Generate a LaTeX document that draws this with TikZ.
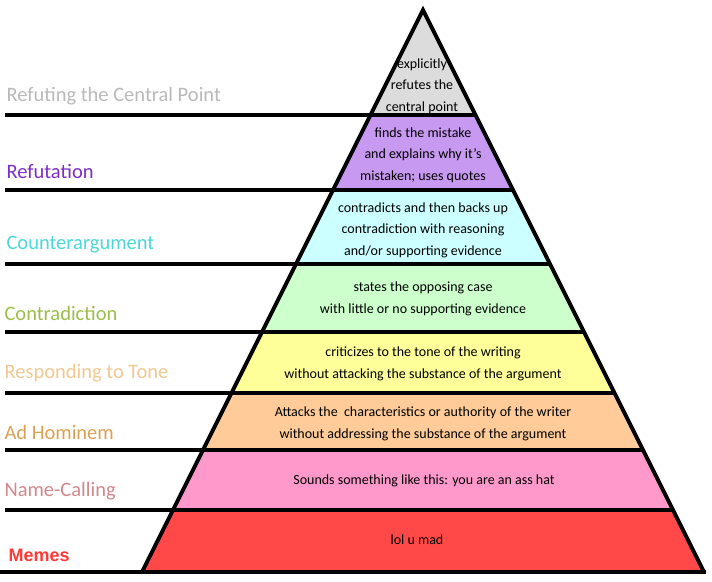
\documentclass[tikz,border=0pt]{standalone}
\usepackage{fontspec}
\setmainfont{Carlito}
\newfontfamily\memesfont{Liberation Sans}
\definecolor{toplvl}{RGB}{220, 220, 220}
\definecolor{refut}{RGB}{200, 153, 240}
\definecolor{counter}{RGB}{204, 255, 255}
\definecolor{contra}{RGB}{204, 255, 204}
\definecolor{tone}{RGB}{255, 255, 153}
\definecolor{adhom}{RGB}{255, 204, 153}
\definecolor{namec}{RGB}{255, 153, 204}
\definecolor{memes}{RGB}{255, 72, 72}
\definecolor{lrefpt}{RGB}{185, 185, 185}
\definecolor{lrefut}{RGB}{125, 45, 200}
\definecolor{lcount}{RGB}{75, 215, 215}
\definecolor{lcontra}{RGB}{155, 190, 75}
\definecolor{ltone}{RGB}{240, 200, 145}
\definecolor{ladhom}{RGB}{220, 160, 85}
\definecolor{lname}{RGB}{210, 135, 140}
\definecolor{lmemes}{RGB}{255, 56, 56}
\tikzset{
    lvltext/.style={font=\fontsize{14}{21.5}\selectfont, align=center},
    lvlname/.style={anchor=west, font=\fontsize{20.5}{22}\selectfont}
}

\begin{document}
\begin{tikzpicture}[x=1pt, y=-1pt]
        \useasboundingbox (0,0) rectangle (712,581);
        % Bands of the pyramid
        \fill[toplvl] (423,10) -- (370.5,115) -- (475.5,115) -- cycle;
        \foreach \a/\b/\col in {115/190/refut, 190/264/counter, 264/332/contra, 332/393/tone, 393/450/adhom, 450/510/namec, 510/572/memes} {
            \fill[\col] ({423-0.5*(\a-10)},\a) -- ({423+0.5*(\a-10)},\a) -- ({423+0.5*(\b-10)},\b) -- ({423-0.5*(\b-10)},\b) -- cycle;
        }
        
        % Outline and rules
        \draw[line width=4pt, line join=miter] (142,572) -- (423,10) -- (704,572);
        \foreach \y in {115, 190, 264, 332, 393, 450, 510} {
            \draw[line width=4pt] (5,\y) -- ({423+0.5*(\y-10)},\y);
        }
        \draw[line width=4pt] (0,572) -- (706,572);
        
        % Level names
        \node[lvlname, text=lrefpt] (nrefpt) at (3,96) {Refuting the Central Point};
        \node[lvlname, text=lrefut] (nrefut) at (3,171) {Refutation};
        \node[lvlname, text=lcount] (ncount) at (3,245) {Counterargument};
        \node[lvlname, text=lcontra] (ncontra) at (1,313) {Contradiction};
        \node[lvlname, text=ltone] (ntone) at (1,373) {Responding to Tone};
        \node[lvlname, text=ladhom] (nadhom) at (1,432) {Ad Hominem};
        \node[lvlname, text=lname] (nname) at (1,491) {Name-Calling};
        \node[lvlname, text=lmemes, font=\memesfont\fontsize{18}{22}\selectfont\bfseries] (nmemes) at (5,555) {Memes};
        
        % Descriptions
        \node[lvltext] (trefpt) at (422,86) {explicitly\\refutes the\\central point};
        \node[lvltext] (trefut) at (423,155) {finds the mistake\\and explains why it’s\\mistaken; uses quotes};
        \node[lvltext] (tcount) at (423,230) {contradicts and then backs up\\contradiction with reasoning\\and/or supporting evidence};
        \node[lvltext] (tcontra) at (423,299) {states the opposing case\\with little or no supporting evidence};
        \node[lvltext] (ttone) at (423,364) {criticizes to the tone of the writing\\without attacking the substance of the argument};
        \node[lvltext] (tadhom) at (423,424) {Attacks the\ \ characteristics or authority of the writer\\without addressing the substance of the argument};
        \node[lvltext] (tname) at (424,481) {Sounds something like this: you are an ass hat};
        \node[lvltext] (tmemes) at (417,540) {lol u mad};
    \end{tikzpicture}
\end{document}
